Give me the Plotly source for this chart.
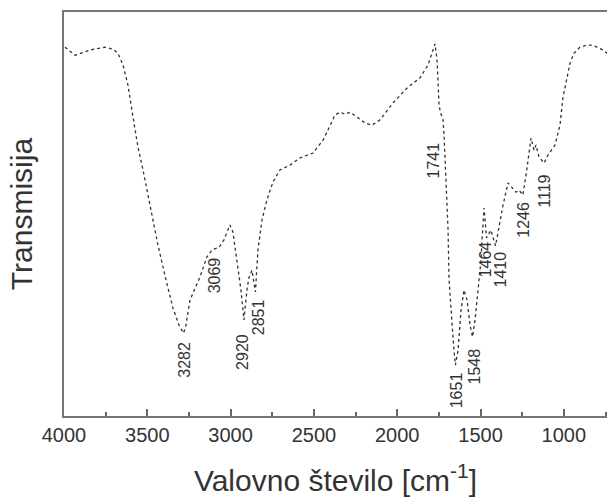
import plotly.graph_objects as go

# IR spectrum (wavenumber cm-1, transmittance in arbitrary %)
wavenumber = [3994, 3934, 3844, 3754, 3706, 3676, 3646, 3616, 3586, 3556, 3526, 3484, 3436, 3388,
              3346, 3310, 3282, 3268, 3244, 3184, 3142, 3112, 3069, 3040, 3004, 2986, 2962, 2938,
              2920, 2902, 2890, 2872, 2851, 2836, 2812, 2782, 2746, 2704, 2644, 2583, 2505, 2445,
              2373, 2343, 2313, 2283, 2235, 2193, 2151, 2103, 2025, 1941, 1863, 1815, 1785, 1773,
              1761, 1755, 1749, 1741, 1725, 1719, 1707, 1695, 1689, 1677, 1665, 1657, 1651, 1635,
              1617, 1599, 1581, 1563, 1548, 1533, 1515, 1497, 1491, 1479, 1464, 1438, 1410, 1383,
              1365, 1335, 1311, 1287, 1269, 1246, 1227, 1209, 1197, 1179, 1167, 1149, 1119, 1095,
              1053, 1023, 1005, 981, 963, 939, 903, 861, 831, 801, 765, 741]
transmittance = [91.3, 89.3, 90.6, 91.3, 90.8, 89.8, 86.9, 81.9, 74.0, 66.6, 60.9, 52.2, 42.3, 33.7,
                 26.7, 22.5, 20.5, 22.5, 28.7, 34.4, 39.4, 41.1, 41.8, 43.6, 47.3, 45.5, 38.6, 31.2,
                 23.8, 31.2, 34.2, 36.1, 30.7, 41.1, 48.5, 53.5, 57.9, 60.9, 62.1, 63.9, 65.1, 68.3,
                 74.5, 75.2, 74.7, 75.2, 73.8, 72.5, 72.0, 73.3, 77.5, 81.2, 83.7, 86.9, 90.6, 92.1,
                 88.1, 80.7, 77.0, 75.2, 73.3, 69.5, 58.4, 46.0, 33.7, 25.0, 19.3, 15.1, 12.6, 16.3,
                 26.2, 31.2, 28.7, 22.5, 19.6, 23.8, 31.2, 38.6, 43.6, 51.5, 44.1, 46.0, 42.1, 48.0,
                 52.2, 57.7, 56.4, 55.4, 55.9, 54.7, 59.6, 65.8, 68.8, 65.8, 67.1, 64.1, 62.6, 64.6,
                 67.1, 72.0, 79.0, 83.7, 87.4, 89.8, 91.3, 91.8, 91.8, 91.3, 90.6, 89.8]

peak_labels = ["3282", "3069", "2920", "2851", "1741", "1651", "1548", "1464", "1410", "1246", "1119"]
peak_wn = [3282, 3069, 2920, 2851, 1741, 1651, 1548, 1464, 1410, 1246, 1119]
label_top_T = [18.8, 39.8, 20.8, 29.5, 68.3, 11.4, 17.1, 43.6, 41.1, 53.5, 60.1]
label_xshift = [0, -5, -1, 3, -7, 2, 2, -1, 5, 1, 1]

x_ticks = [4000, 3500, 3000, 2500, 2000, 1500, 1000]

fig = go.Figure()
fig.add_trace(go.Scatter(x=wavenumber, y=transmittance, mode="lines",
                         line=dict(color="#333333", width=1.3, dash="3px,3px"),
                         hoverinfo="x+y", showlegend=False))

for lab, wn, yt, xs in zip(peak_labels, peak_wn, label_top_T, label_xshift):
    fig.add_annotation(x=wn, y=yt, text=lab, textangle=-90, showarrow=False,
                       xanchor="center", yanchor="top", xshift=xs,
                       font=dict(family="Liberation Sans, Arial", size=16, color="#333333"))

fig.update_layout(
    width=607, height=497,
    margin=dict(l=64, r=0, t=12, b=81),
    paper_bgcolor="white", plot_bgcolor="white",
    font=dict(family="Liberation Sans, Arial", color="#333333"),
)
fig.update_xaxes(range=[4000, 741], autorange=False,
                 tickvals=x_ticks, ticktext=[str(v) for v in x_ticks],
                 ticks="inside", ticklen=7, tickwidth=1.5, tickcolor="#666666",
                 minor=dict(dtick=250, tick0=4000, ticks="inside", ticklen=4, tickcolor="#666666", tickwidth=1.5),
                 showline=True, linecolor="#777777", linewidth=2, mirror=True,
                 showgrid=False, zeroline=False,
                 tickfont=dict(size=20, color="#333333"),
                 title=dict(text="Valovno število [cm<sup>-1</sup>]", font=dict(size=30, color="#333333"), standoff=30))
fig.update_yaxes(range=[0, 100], autorange=False, showticklabels=False, ticks="",
                 showline=True, linecolor="#777777", linewidth=2, mirror=False,
                 showgrid=False, zeroline=False,
                 title=dict(text="Transmisija", font=dict(size=30, color="#333333"), standoff=21))

fig.write_html("out.html", config={"displayModeBar": False},
               post_script="document.body.style.margin='0';document.body.style.overflow='hidden';")
